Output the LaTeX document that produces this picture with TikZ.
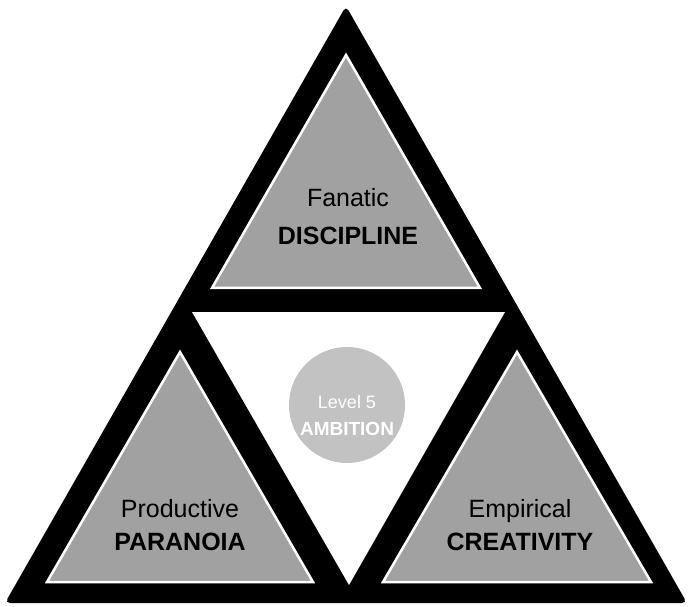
\documentclass[tikz,border=0pt]{standalone}
\usepackage{fontspec}
\setmainfont{Liberation Sans}
\usetikzlibrary{positioning}

\begin{document}
\begin{tikzpicture}[
    x=1pt, y=-1pt,
    frame/.style={fill=black, rounded corners=5pt},
    panel/.style={fill=black!37, draw=white, line width=2.5pt, line join=miter},
    hole/.style={fill=white},
    core/.style={circle, fill=black!24, minimum size=116pt, inner sep=0pt},
    word/.style={anchor=base, font=\fontsize{25}{30}\selectfont},
    keyword/.style={anchor=base, font=\fontsize{25}{30}\selectfont\bfseries},
    coreword/.style={anchor=base, text=white, font=\fontsize{18}{22}\selectfont},
    corekey/.style={anchor=base, text=white, font=\fontsize{19}{23}\selectfont\bfseries}
]
\useasboundingbox (0,0) rectangle (689,607);

% Corners
\coordinate (OuterTop) at (346,6);
\coordinate (OuterLeft) at (5,603);
\coordinate (OuterRight) at (687,603);
\coordinate (HoleLeft) at (192,312);
\coordinate (HoleRight) at (505,312);
\coordinate (HoleBottom) at (349,585);

% Outer frame
\fill[frame] (OuterTop) -- (OuterLeft) -- (OuterRight) -- cycle;

% Panels
\filldraw[panel] (346,55) -- (212,288) -- (480,288) -- cycle;
\filldraw[panel] (180,352) -- (47,582) -- (313,582) -- cycle;
\filldraw[panel] (517,352) -- (383,582) -- (651,582) -- cycle;

% Centre
\fill[hole] (HoleLeft) -- (HoleRight) -- (HoleBottom) -- cycle;
\node[core] (Ambition) at (347,405) {};

% Labels
\node[word] (Fanatic) at (348,207) {Fanatic};
\node[keyword] (Discipline) at (348,245) {DISCIPLINE};
\node[word] (Productive) at (180,517) {Productive};
\node[keyword] (Paranoia) at (180,550) {PARANOIA};
\node[word] (Empirical) at (520,517) {Empirical};
\node[keyword] (Creativity) at (520,550) {CREATIVITY};
\node[coreword] (Level) at (347,408) {Level 5};
\node[corekey] (AmbitionText) at (347,435) {AMBITION};

\end{tikzpicture}
\end{document}
